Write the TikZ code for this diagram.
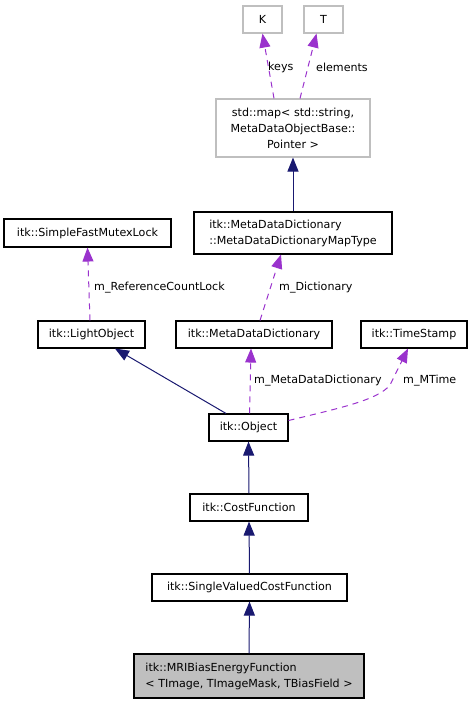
\documentclass[tikz,border=0pt]{standalone}
\usepackage{fontspec}
\setmainfont{DejaVu Sans}
\usetikzlibrary{arrows.meta,calc}
\definecolor{navy}{HTML}{191970}
\definecolor{orchid}{HTML}{9A32CD}
\definecolor{grayb}{HTML}{BFBFBF}
\tikzset{
  box/.style={draw=black,line width=1.1pt,inner sep=0pt,minimum height=27pt,font=\fontsize{11.1}{16}\selectfont},
  gbox/.style={box,draw=grayb},
  inh/.style={draw=navy,line width=1pt,-{Triangle[length=14pt,width=11pt]}},
  use/.style={draw=orchid,line width=1pt,dash pattern=on 6pt off 5pt,-{Triangle[length=14pt,width=11pt]}},
  lbl/.style={anchor=west,inner sep=0pt,font=\fontsize{11.1}{14}\selectfont}
}
\begin{document}
\begin{tikzpicture}[x=1pt,y=-1pt]
\useasboundingbox (0,0) rectangle (473,704);
\node[gbox,minimum width=39pt] (K) at (262.5,19.5) {K};
\node[gbox,minimum width=39pt] (T) at (323.5,19.5) {T};
\node[gbox,minimum width=154pt,minimum height=58pt,align=center] (map) at (293,128) {std::map\textless{} std::string,\\ MetaDataObjectBase::\\Pointer \textgreater};
\node[box,minimum width=167pt,minimum height=28pt] (mutex) at (87.5,233) {itk::SimpleFastMutexLock};
\node[box,minimum width=198pt,minimum height=42pt,align=left] (maptype) at (293,233) {itk::MetaDataDictionary\\::MetaDataDictionaryMapType};
\node[box,minimum width=107pt] (light) at (91.5,334.5) {itk::LightObject};
\node[box,minimum width=156pt] (mdd) at (254,334.5) {itk::MetaDataDictionary};
\node[box,minimum width=106pt] (ts) at (414,334.5) {itk::TimeStamp};
\node[box,minimum width=79pt] (obj) at (248.5,427.5) {itk::Object};
\node[box,minimum width=118pt] (cost) at (249,507.5) {itk::CostFunction};
\node[box,minimum width=195pt] (svcf) at (249.5,587.5) {itk::SingleValuedCostFunction};
\node[box,fill=grayb,minimum width=230pt,minimum height=44pt,align=left] (mri) at (249,676) {itk::MRIBiasEnergyFunction\\\textless{} TImage, TImageMask, TBiasField \textgreater};

\draw[use] ($(map.north)+(-19,0)$) -- (K.south);
\draw[use] ($(map.north)+(7,0)$) -- ($(T.south)+(-7,0)$);
\node[lbl] (lkeys) at (268,67) {keys};
\node[lbl] (lelem) at (316,67) {elements};
\draw[inh] (maptype.north) -- (map.south);
\draw[use] ($(light.north)+(-1.5,0)$) -- (mutex.south);
\node[lbl] (lref) at (94,288) {m\_ReferenceCountLock};
\draw[use] ($(mdd.north)+(6,0)$) -- ($(maptype.south)+(-12,0)$);
\node[lbl] (ldict) at (279,288) {m\_Dictionary};
\draw[inh] ($(obj.north)+(-22.5,0)$) -- ($(light.south)+(23.5,0)$);
\draw[use] ($(obj.north)+(1,0)$) -- ($(mdd.south)+(-3,0)$);
\node[lbl] (lmdd) at (254,381) {m\_MetaDataDictionary};
\coordinate (mt1) at ($(obj.east)+(0,-7)$);
\draw[use] (mt1) .. controls (340,408) and (378,400) .. (390,385) -- ($(ts.south)+(-6,0)$);
\node[lbl] (lmt) at (403,381) {m\_MTime};
\draw[inh] (cost.north) -- (obj.south);
\draw[inh] (svcf.north) -- (cost.south);
\draw[inh] (mri.north) -- (svcf.south);
\end{tikzpicture}
\end{document}
